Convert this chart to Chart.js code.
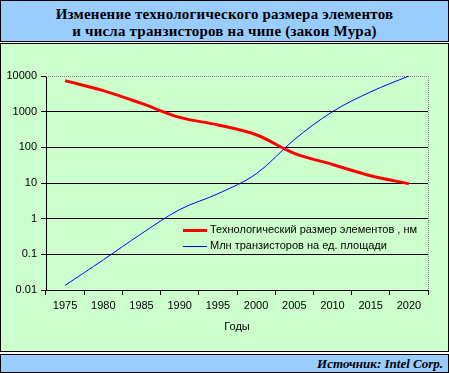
<!DOCTYPE html>
<html lang="ru">
<head>
    <meta charset="UTF-8">
    <title>Закон Мура</title>
    <script src="https://cdn.jsdelivr.net/npm/chart.js"></script>
    <style>
        body {
            margin: 0;
            background: #fff;
            width: 449px;
            height: 373px;
            position: relative;
            overflow: hidden;
        }
        .box {
            position: absolute;
            left: 0;
            width: 449px;
            box-sizing: border-box;
            border: 1px solid #000;
        }
        #head {
            top: 0;
            height: 42px;
            background: #99ccff;
            font-family: "Liberation Serif", "Times New Roman", serif;
            font-weight: bold;
            font-size: 15px;
            line-height: 17px;
            text-align: center;
            padding-top: 5px;
            letter-spacing: 0.2px;
        }
        #panel {
            top: 43px;
            height: 309px;
            background: #ccffcc;
        }
        #foot {
            top: 354px;
            height: 19px;
            background: #99ccff;
            font-family: "Liberation Serif", "Times New Roman", serif;
            font-weight: bold;
            font-style: italic;
            font-size: 13px;
            line-height: 17px;
            text-align: right;
            padding-right: 5px;
        }
        #chart {
            position: absolute;
            left: 1px;
            top: 44px;
        }
        #legend {
            position: absolute;
            left: 183px;
            top: 221px;
            font-family: "Liberation Sans", Arial, sans-serif;
            font-size: 11px;
            color: #000;
        }
        .item {
            height: 16px;
            line-height: 16px;
            white-space: nowrap;
        }
        .item i {
            display: inline-block;
            width: 24px;
            vertical-align: middle;
            margin-right: 3px;
        }
    </style>
</head>
<body>
    <div class="box" id="head">Изменение технологического размера элементов<br>и числа транзисторов на чипе (закон Мура)</div>
    <div class="box" id="panel"></div>
    <div class="box" id="foot">Источник: Intel Corp.</div>
    <canvas id="chart" width="447" height="306"></canvas>
    <div id="legend">
        <div class="item"><i style="border-top:3px solid #ff0000"></i>Технологический размер элементов , нм</div>
        <div class="item"><i style="border-top:1px solid #0000ff"></i>Млн транзисторов на ед. площади</div>
    </div>
    <script>
        // данные
        const years = [1975, 1980, 1985, 1990, 1995, 2000, 2005, 2010, 2015, 2020];
        const sizeNm = [7400, 3900, 1700, 690, 425, 225, 68, 33, 16, 9.5];
        const transistors = [0.0135, 0.07, 0.38, 1.8, 5, 18, 165, 1000, 3600, 10000];
        const yTicks = [0.01, 0.1, 1, 10, 100, 1000, 10000];

        const font = { family: "'Liberation Sans', Arial, sans-serif", size: 11 };

        // пунктирная рамка сверху и справа
        const plotFrame = {
            id: 'plotFrame',
            beforeDatasetsDraw(chart) {
                const { ctx, chartArea: a } = chart;
                ctx.save();
                ctx.strokeStyle = '#808080';
                ctx.lineWidth = 1;
                ctx.setLineDash([1, 1]);
                ctx.beginPath();
                ctx.moveTo(a.left, a.top + 0.5);
                ctx.lineTo(a.right + 0.5, a.top + 0.5);
                ctx.lineTo(a.right + 0.5, a.bottom);
                ctx.stroke();
                ctx.restore();
            }
        };

        new Chart(document.getElementById('chart'), {
            type: 'line',
            data: {
                labels: years.map(String),
                datasets: [
                    {
                        label: 'Технологический размер элементов , нм',
                        data: years.map((y, i) => ({ x: y, y: sizeNm[i] })),
                        borderColor: '#ff0000',
                        borderWidth: 3,
                        pointRadius: 0,
                        tension: 0.35,
                        xAxisID: 'x'
                    },
                    {
                        label: 'Млн транзисторов на ед. площади',
                        data: years.map((y, i) => ({ x: y, y: transistors[i] })),
                        borderColor: '#0000ff',
                        borderWidth: 1,
                        pointRadius: 0,
                        tension: 0.35,
                        xAxisID: 'x'
                    }
                ]
            },
            options: {
                responsive: false,
                animation: false,
                layout: { padding: { top: 32, right: 20, left: 0, bottom: 0 } },
                plugins: {
                    legend: { display: false },
                    tooltip: { enabled: false }
                },
                scales: {
                    x: {
                        type: 'linear',
                        display: false,
                        min: 1972.5,
                        max: 2022.5
                    },
                    xc: {
                        type: 'category',
                        position: 'bottom',
                        offset: true,
                        afterFit: s => { s.height = 60; },
                        grid: {
                            offset: true,
                            drawOnChartArea: false,
                            tickLength: 5,
                            tickColor: '#000'
                        },
                        border: { color: '#000', width: 1 },
                        ticks: { color: '#000', font: font, padding: 4, maxRotation: 0, autoSkip: false },
                        title: {
                            display: true,
                            text: 'Годы',
                            color: '#000',
                            font: font,
                            padding: { top: 4, bottom: 16 }
                        }
                    },
                    y: {
                        type: 'logarithmic',
                        min: 0.01,
                        max: 10000,
                        afterFit: s => { s.width = 45; },
                        afterBuildTicks: s => { s.ticks = yTicks.map(v => ({ value: v })); },
                        grid: {
                            color: c => (c.tick && c.tick.value === 10000) ? 'rgba(0,0,0,0)' : '#000',
                            tickColor: '#000',
                            tickLength: 5
                        },
                        border: { color: '#000', width: 1 },
                        ticks: {
                            color: '#000',
                            font: font,
                            padding: 4,
                            callback: v => String(v)
                        }
                    }
                }
            },
            plugins: [plotFrame]
        });
    </script>
</body>
</html>
